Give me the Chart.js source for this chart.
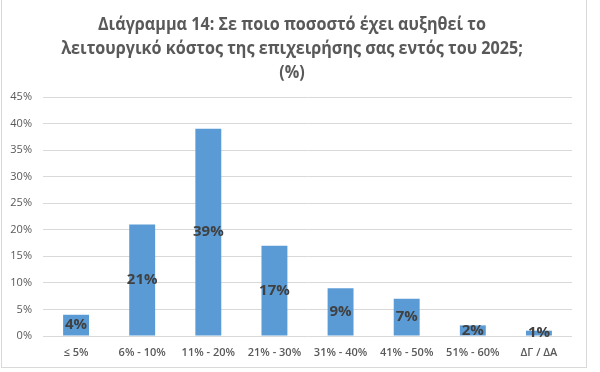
<!DOCTYPE html>
<html>
<head>
<meta charset="utf-8">
<script src="https://cdn.jsdelivr.net/npm/chart.js@4/dist/chart.umd.min.js"></script>
<style>
  html, body { margin: 0; padding: 0; background: #fff; }
  #chart { display: block; }
</style>
</head>
<body>
<canvas id="chart" width="600" height="372"></canvas>
<script>
// chart data
const titleLines = [
  'Διάγραμμα 14: Σε ποιο ποσοστό έχει αυξηθεί το',
  'λειτουργικό κόστος της επιχειρήσης σας εντός του 2025;',
  '(%)'
];
const categories = ['≤ 5%', '6% - 10%', '11% - 20%', '21% - 30%', '31% - 40%', '41% - 50%', '51% - 60%', 'ΔΓ / ΔΑ'];
const values = [4, 21, 39, 17, 9, 7, 2, 1];
const yMax = 45;
const yStep = 5;

const textFont = '"Open Sans", "Noto Sans", sans-serif';

// frame + title drawn behind the chart
const frameTitle = {
  id: 'frameTitle',
  beforeDraw(chart){
    const ctx = chart.ctx;
    ctx.save();
    ctx.fillStyle = '#ffffff';
    ctx.fillRect(0, 0, chart.width, chart.height);
    ctx.strokeStyle = '#d9d9d9';
    ctx.lineWidth = 1;
    ctx.strokeRect(1.5, -2, 585, 369.5);
    ctx.fillStyle = '#595959';
    ctx.font = 'bold 17px ' + textFont;
    ctx.textAlign = 'center';
    ctx.textBaseline = 'alphabetic';
    const ys = [30, 54, 78];
    titleLines.forEach((line, i) => {
      ctx.save();
      ctx.translate(292, ys[i]);
      ctx.scale(0.95, 1);
      ctx.fillText(line, 0, 0);
      ctx.restore();
    });
    ctx.restore();
  }
};

// value labels centred inside the bars
const barLabels = {
  id: 'barLabels',
  afterDatasetsDraw(chart){
    const ctx = chart.ctx;
    const meta = chart.getDatasetMeta(0);
    ctx.save();
    ctx.font = 'bold 15px ' + textFont;
    ctx.fillStyle = '#404040';
    ctx.textAlign = 'center';
    ctx.textBaseline = 'middle';
    meta.data.forEach((bar, i) => {
      ctx.fillText(values[i] + '%', bar.x, (bar.y + bar.base) / 2);
    });
    ctx.restore();
  }
};

const ctx = document.querySelector('#chart').getContext('2d');
const myChart = new Chart(ctx, {
  type: 'bar',
  data: {
    labels: categories,
    datasets: [{
      data: values,
      backgroundColor: '#5b9bd5',
      borderWidth: 0,
      categoryPercentage: 0.8,
      barPercentage: 0.49
    }]
  },
  options: {
    responsive: false,
    animation: false,
    devicePixelRatio: 1,
    layout: { padding: { top: 97, right: 28, bottom: 0, left: 0 } },
    plugins: {
      legend: { display: false },
      tooltip: { enabled: false },
      title: { display: false }
    },
    scales: {
      x: {
        grid: { display: false, drawTicks: false },
        border: { display: false },
        ticks: {
          color: '#595959',
          font: { family: textFont, size: 11, weight: '600' },
          padding: 10,
          maxRotation: 0,
          autoSkip: false
        },
        afterFit(scale){ scale.height = 36; }
      },
      y: {
        min: 0,
        max: yMax,
        grid: { color: '#d9d9d9', lineWidth: 1, drawTicks: false },
        border: { display: false },
        ticks: {
          stepSize: yStep,
          color: '#595959',
          font: { family: textFont, size: 11 },
          padding: 11,
          callback: v => v + '%'
        },
        afterFit(scale){ scale.width = 43; }
      }
    }
  },
  plugins: [frameTitle, barLabels]
});
</script>
</body>
</html>
